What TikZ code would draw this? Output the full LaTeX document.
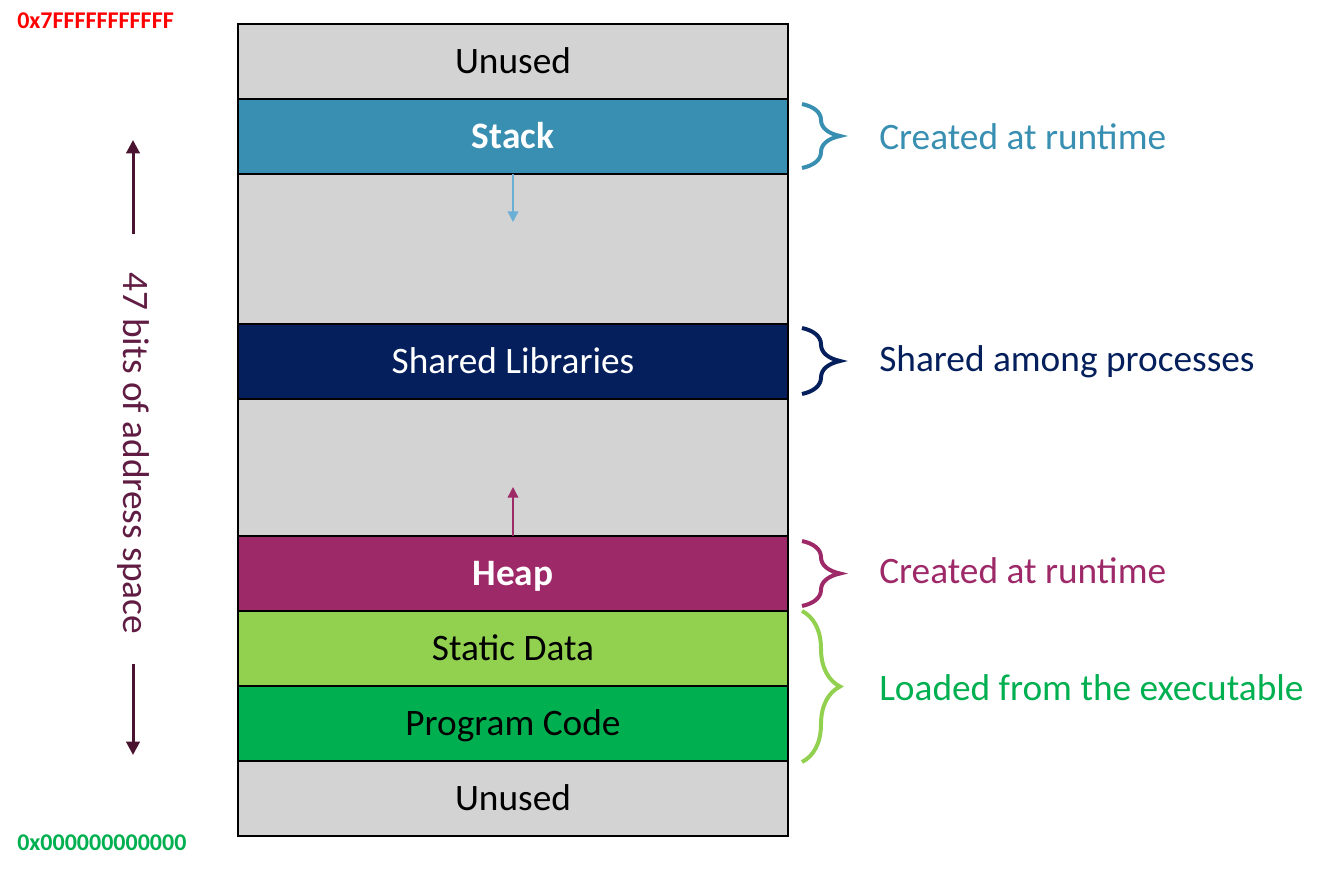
\documentclass[tikz,border=0pt]{standalone}
\usepackage{fontspec}
\setmainfont{Carlito}
\usetikzlibrary{positioning,arrows.meta,decorations.pathreplacing}
\definecolor{unusedgray}{RGB}{211,211,211}
\definecolor{stackblue}{RGB}{56,143,177}
\definecolor{stackarrow}{RGB}{107,174,214}
\definecolor{sharednavy}{RGB}{4,31,92}
\definecolor{heappurple}{RGB}{158,41,104}
\definecolor{staticgreen}{RGB}{146,208,80}
\definecolor{codegreen}{RGB}{0,176,80}
\definecolor{bitsmaroon}{RGB}{96,28,66}
\definecolor{bitsarrow}{RGB}{74,20,48}
\tikzset{
    segment/.style = {
        draw = black,
        line width = 1.5pt,
        rectangle,
        outer sep = 0pt,
        minimum width = 412.5pt,
        minimum height = 56.25pt,
        text height = 22pt,
        text depth = 4pt,
        font = \fontsize{28}{32}\selectfont,
        },
    unused/.style = {
        fill = unusedgray,
        },
    note/.style = {
        inner sep = 0pt,
        anchor = west,
        font = \fontsize{28}{32}\selectfont,
        },
    address/.style = {
        inner sep = 0pt,
        anchor = west,
        font = \fontsize{18}{20}\selectfont\bfseries,
        },
    segbrace/.style = {
        decorate,
        decoration = {brace, amplitude=28.5pt},
        line width = 3pt,
        },
}

\begin{document}
\begin{tikzpicture}
            \useasboundingbox (0,0) rectangle (999pt,-656.25pt);

            \node[segment, unused, anchor=north west] (top) at (178.5pt,-18pt) {Unused};
            \node[segment, fill=stackblue, text=white, font=\fontsize{28}{32}\selectfont\bfseries, below=0pt of top] (stack) {Stack};
            \node[segment, unused, minimum height=112.5pt, below=0pt of stack] (gap1) {};
            \node[segment, fill=sharednavy, text=white, below=0pt of gap1] (shared) {Shared Libraries};
            \node[segment, unused, minimum height=102.75pt, below=0pt of shared] (gap2) {};
            \node[segment, fill=heappurple, text=white, font=\fontsize{28}{32}\selectfont\bfseries, below=0pt of gap2] (heap) {Heap};
            \node[segment, fill=staticgreen, below=0pt of heap] (static) {Static Data};
            \node[segment, fill=codegreen, below=0pt of static] (code) {Program Code};
            \node[segment, unused, below=0pt of code] (bottom) {Unused};

            % growth of stack and heap
            \coordinate[below=36pt of stack.south] (stackend);
            \coordinate[above=36.75pt of heap.north] (heapend);
            \draw[stackarrow, line width=1.1pt, -{Triangle[length=8pt, width=8pt]}] (stack.south) -- (stackend);
            \draw[heappurple, line width=1.1pt, -{Triangle[length=8pt, width=8pt]}] (heap.north) -- (heapend);

            % addresses
            \node[address, text=red] (high) at (12.75pt,-15.75pt) {0x7FFFFFFFFFFF};
            \node[address, text=codegreen] (low) at (12.75pt,-632.25pt) {0x000000000000};

            % address space
            \node[text=bitsmaroon, rotate=-90, inner sep=0pt, font=\fontsize{28}{32}\selectfont] (bits) at (99.75pt,-339.75pt) {47 bits of address space};
            \coordinate (uptip) at (99.75pt,-105pt);
            \coordinate (downtip) at (99.75pt,-566.25pt);
            \draw[bitsarrow, line width=2.25pt, -{Triangle[length=10pt, width=10pt]}] ([yshift=28.5pt]bits.west) -- (uptip);
            \draw[bitsarrow, line width=2.25pt, -{Triangle[length=10pt, width=10pt]}] ([yshift=-22.5pt]bits.east) -- (downtip);

            % braces
            \draw[segbrace, stackblue] ([xshift=10.5pt,yshift=-3.75pt]stack.north east) -- ([xshift=10.5pt,yshift=4.5pt]stack.south east);
            \draw[segbrace, sharednavy] ([xshift=10.5pt,yshift=-3pt]shared.north east) -- ([xshift=10.5pt,yshift=3.75pt]shared.south east);
            \draw[segbrace, heappurple] ([xshift=10.5pt,yshift=-3.75pt]heap.north east) -- ([xshift=10.5pt,yshift=3.75pt]heap.south east);
            \draw[segbrace, staticgreen] ([xshift=10.5pt]static.north east) -- ([xshift=10.5pt,yshift=-0.75pt]code.south east);

            \node[note, text=stackblue, right=68.25pt of stack.east] (stacknote) {Created at runtime};
            \node[note, text=sharednavy, right=68.25pt of shared.east] (sharednote) {Shared among processes};
            \node[note, text=heappurple, right=68.25pt of heap.east, yshift=2pt] (heapnote) {Created at runtime};
            \node[note, text=codegreen, right=68.25pt of static.south east, yshift=-1.5pt] (loadnote) {Loaded from the executable};
        \end{tikzpicture}
\end{document}
